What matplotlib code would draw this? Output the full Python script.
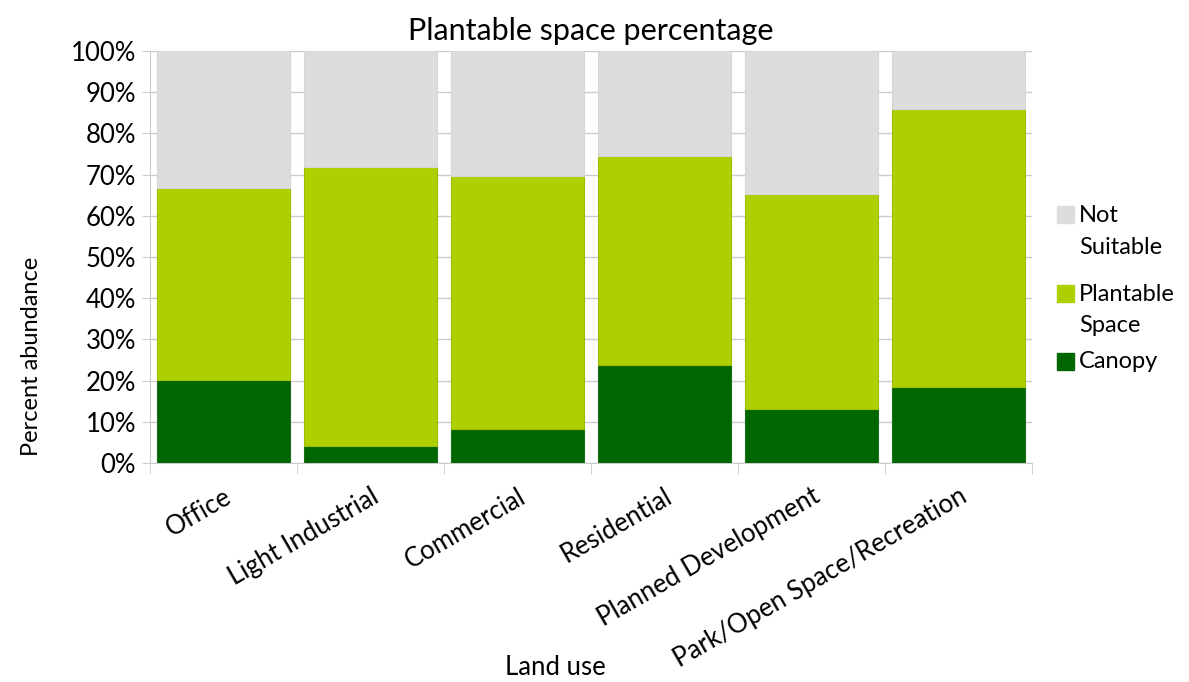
import numpy as np
import matplotlib.pyplot as plt
from matplotlib.patches import Rectangle

plt.rcParams['font.family'] = ['Lato', 'DejaVu Sans']

categories = ['Office', 'Light Industrial', 'Commercial', 'Residential',
              'Planned Development', 'Park/Open Space/Recreation']
canopy = [20.1, 4.2, 8.3, 23.8, 13.1, 18.4]
plantable = [46.7, 67.7, 61.4, 50.8, 52.2, 67.5]
not_suitable = [100 - c - p for c, p in zip(canopy, plantable)]

W, H = 1189, 682
fig = plt.figure(figsize=(W / 100, H / 100), dpi=100)
ax = fig.add_axes([150 / W, 1 - 463 / H, 882 / W, 412 / H])

x = np.arange(len(categories))
w = 0.9
ax.bar(x, canopy, w, color='#006600', edgecolor='#1a6e1a', lw=0.8, zorder=3)
ax.bar(x, plantable, w, bottom=canopy, color='#aecf00', edgecolor='#9cc000', lw=0.8, zorder=3)
bottom2 = [c + p for c, p in zip(canopy, plantable)]
ax.bar(x, not_suitable, w, bottom=bottom2, color='#dddddd', edgecolor='#d6d6d6', lw=0.8, zorder=3)

ax.set_xlim(-0.5, len(categories) - 0.5)
ax.set_ylim(0, 100)
ax.set_yticks(np.arange(0, 101, 10))
ax.set_yticklabels([f'{v}%' for v in range(0, 101, 10)], fontsize=18.5)
ax.yaxis.grid(True, color='#cccccc', lw=1, zorder=0)
ax.set_xticks(x)
ax.set_xticklabels(categories, rotation=30, ha='right', rotation_mode='anchor', fontsize=18.5)
ax.set_xticks(np.arange(-0.5, len(categories)), minor=True)
ax.tick_params(axis='x', which='major', length=0, pad=15)
ax.tick_params(axis='x', which='minor', length=8, color='#cccccc')
ax.tick_params(axis='y', length=6, color='#cccccc', pad=4)
for s in ['top', 'right']:
    ax.spines[s].set_visible(False)
ax.spines['left'].set_color('#cccccc')
ax.spines['bottom'].set_color('#cccccc')

ax.set_title('Plantable space percentage', fontsize=22, pad=8)
ax.set_ylabel('Percent abundance', fontsize=17)
ax.yaxis.set_label_coords(-0.122, 0.26)
ax.set_xlabel('Land use', fontsize=18.5)
ax.xaxis.set_label_coords(0.46, -0.465)

# legend drawn by hand so the swatch lines up with the first line of each label
legend_items = [(['Not', 'Suitable'], '#dddddd', 215),
                (['Plantable', 'Space'], '#aecf00', 293),
                (['Canopy'], '#006600', 361)]
for lines, col, yc in legend_items:
    fig.patches.append(Rectangle((1057 / W, 1 - (yc + 8.5) / H), 17 / W, 17 / H,
                                 transform=fig.transFigure, color=col))
    for i, ln in enumerate(lines):
        fig.text(1079 / W, 1 - (yc + 1 + 32 * i) / H, ln, fontsize=17, va='center', ha='left')

fig.savefig('out.png')
